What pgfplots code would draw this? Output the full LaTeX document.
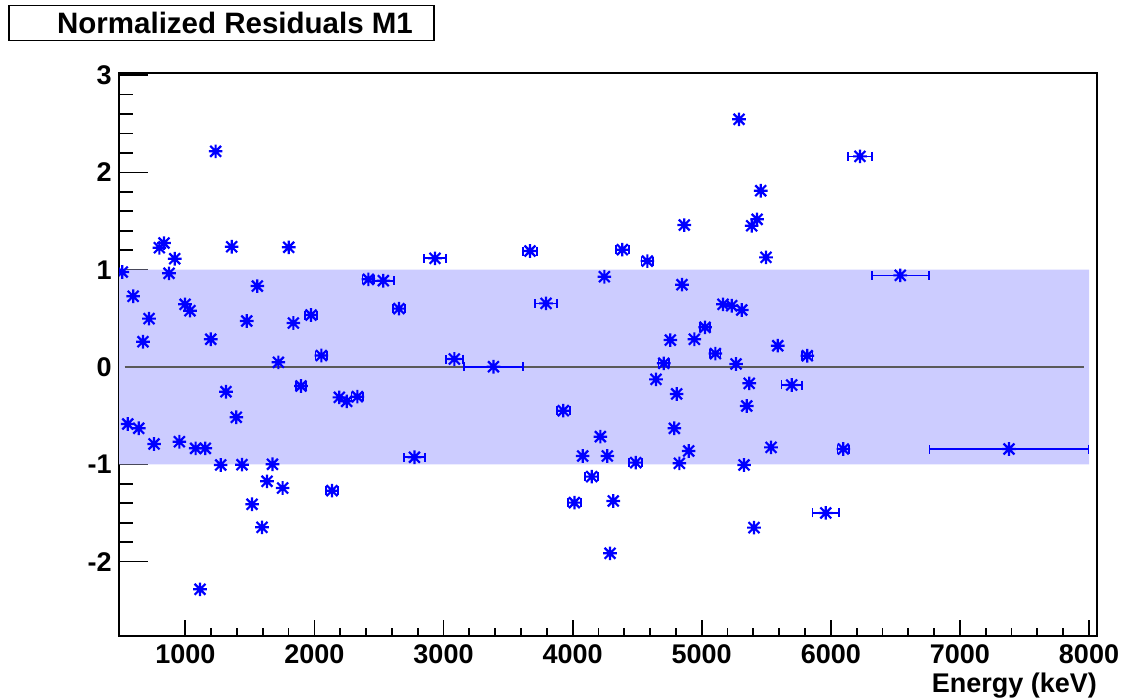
\documentclass[border=0pt]{standalone}
\usepackage{pgfplots}
\pgfplotsset{compat=1.18}
\usepackage{pgfplotstable}
\usepackage{fontspec}
\setmainfont{Liberation Sans}

\definecolor{bandblue}{RGB}{204,204,255}
\definecolor{rootblue}{RGB}{0,0,255}

\pgfdeclareplotmark{rootstar}{%
  \pgfpathmoveto{\pgfqpoint{-\pgfplotmarksize}{0pt}}%
  \pgfpathlineto{\pgfqpoint{\pgfplotmarksize}{0pt}}%
  \pgfpathmoveto{\pgfqpoint{0pt}{-\pgfplotmarksize}}%
  \pgfpathlineto{\pgfqpoint{0pt}{\pgfplotmarksize}}%
  \pgfpathmoveto{\pgfqpoint{-0.8\pgfplotmarksize}{-0.8\pgfplotmarksize}}%
  \pgfpathlineto{\pgfqpoint{0.8\pgfplotmarksize}{0.8\pgfplotmarksize}}%
  \pgfpathmoveto{\pgfqpoint{-0.8\pgfplotmarksize}{0.8\pgfplotmarksize}}%
  \pgfpathlineto{\pgfqpoint{0.8\pgfplotmarksize}{-0.8\pgfplotmarksize}}%
  \pgfusepathqstroke}

\pgfplotstableread{
x y ex
512 0.976 0
554 -0.586 0
596 0.727 0
639 -0.630 0
672 0.260 0
719 0.497 0
758 -0.791 0
799 1.226 0
835 1.274 0
874 0.963 0
918 1.113 0
954 -0.768 0
998 0.644 0
1036 0.579 0
1080 -0.836 0
1114 -2.285 0
1155 -0.836 0
1197 0.285 0
1235 2.217 0
1274 -1.007 0
1315 -0.254 0
1359 1.236 0
1395 -0.517 0
1439 -1.004 0
1476 0.473 0
1517 -1.411 0
1558 0.832 0
1594 -1.648 0
1633 -1.175 0
1675 -1.000 0
1721 0.048 0
1754 -1.244 0
1801 1.230 0
1837 0.452 0
1896 -0.195 40
1974 0.534 45
2054 0.118 45
2136 -1.271 45
2193 -0.312 0
2250 -0.353 0
2333 -0.305 45
2418 0.901 45
2534 0.887 80
2655 0.600 45
2775 -0.928 81
2934 1.117 85
3084 0.082 67
3387 0.003 230
3670 1.192 54
3794 0.654 83
3928 -0.449 50
4014 -1.394 50
4078 -0.915 0
4148 -1.127 50
4215 -0.716 0
4246 0.928 0
4269 -0.915 0
4290 -1.915 0
4315 -1.377 0
4385 1.206 50
4489 -0.983 50
4579 1.089 45
4646 -0.127 0
4706 0.038 40
4757 0.277 0
4788 -0.630 0
4806 -0.277 0
4827 -0.990 0
4847 0.846 0
4865 1.459 0
4899 -0.863 0
4943 0.285 0
5026 0.408 40
5106 0.138 40
5165 0.644 0
5232 0.630 0
5266 0.031 0
5289 2.546 0
5310 0.586 0
5328 -1.007 0
5349 -0.401 0
5368 -0.168 0
5387 1.452 0
5405 -1.651 0
5429 1.518 0
5457 1.812 0
5498 1.127 0
5537 -0.826 0
5589 0.219 0
5697 -0.185 80
5818 0.116 40
5961 -1.500 103
6097 -0.843 45
6226 2.165 93
6538 0.942 221
7380 -0.843 615
}\resid

\begin{document}
\begin{tikzpicture}
\path[use as bounding box] (0,0) rectangle (561.5pt,348.5pt);
\begin{axis}[
  at={(59.5pt,30.5pt)}, anchor=south west,
  scale only axis, width=489.15pt, height=281.65pt,
  xmin=486.4, xmax=8064.3, ymin=-2.765, ymax=3.025,
  xtick={1000,2000,...,8000}, ytick={-2,-1,...,3},
  minor x tick num=4, minor y tick num=4,
  tick pos=left, tick align=inside,
  major tick length=14.5pt, minor tick length=7pt,
  x tick style={/pgfplots/major tick length=8pt, /pgfplots/minor tick length=4pt},
  tick style={black, line width=0.9pt},
  axis line style={black, line width=1.1pt},
  /pgf/number format/assume math mode=true,
  /pgf/number format/1000 sep={},
  ticklabel style={font=\fontsize{13.5}{16}\selectfont\bfseries},
  yticklabel style={anchor=east, inner sep=0pt, xshift=-3.5pt},
  xticklabel style={anchor=base, inner sep=0pt, yshift=-13.5pt},
  xlabel={Energy (keV)},
  xlabel style={at={(rel axis cs:1,0)}, anchor=base east, inner sep=0pt, yshift=-28pt, font=\fontsize{13.5}{16}\selectfont\bfseries},
  clip marker paths=true,
]
\addplot[fill=bandblue, draw=none, forget plot] coordinates {(486.4,-1) (8000,-1) (8000,1) (486.4,1) (486.4,-1)};
\addplot[color=black!65, line width=0.75pt, forget plot] coordinates {(530,0) (7960,0)};
\addplot[rootblue, line width=1.1pt, only marks, mark=rootstar, mark size=3.4pt,
  error bars/.cd, x dir=both, x explicit, error mark=|,
  error bar style={line width=0.85pt, rootblue},
  error mark options={mark size=2.25pt, line width=0.85pt, rootblue}]
  table[x=x, y=y, x error=ex] {\resid};
\end{axis}
\node[draw=black, line width=0.75pt, fill=white, minimum width=212.5pt, minimum height=17.5pt, inner sep=0pt, anchor=north west] at (4pt,346pt) {};
\node[font=\fontsize{14.75}{17}\selectfont\bfseries, inner sep=0pt] at (117.5pt,337.25pt) {Normalized Residuals M1};
\end{tikzpicture}
\end{document}
